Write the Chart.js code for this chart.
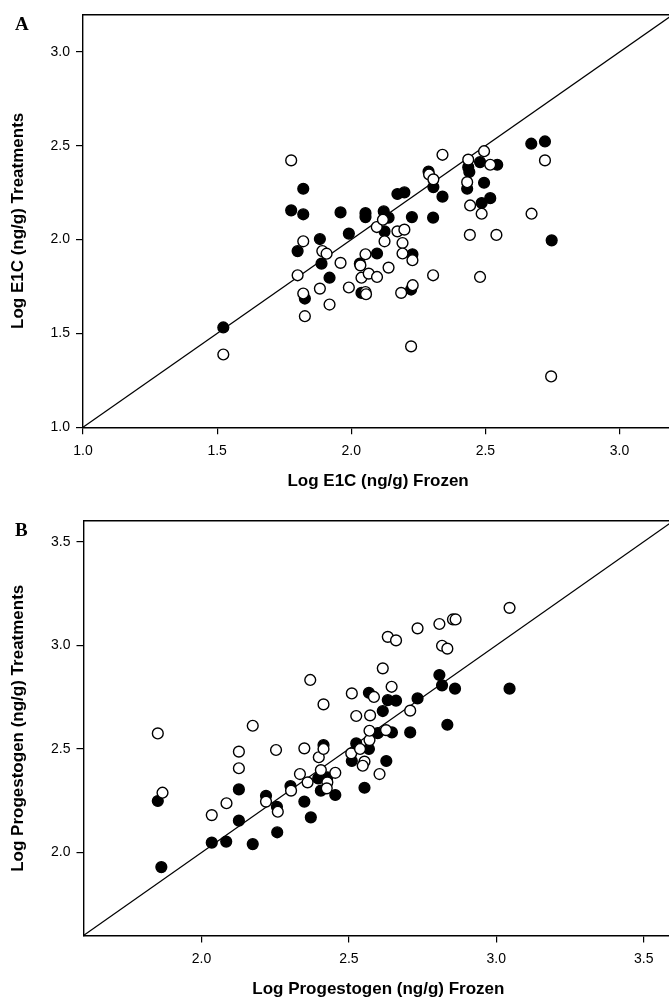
<!DOCTYPE html>
<html>
<head>
<meta charset="utf-8">
<script src="https://cdn.jsdelivr.net/npm/chart.js@4.4.1/dist/chart.umd.min.js"></script>
<style>
    html, body { margin: 0; padding: 0; background: #fff; }
    body { width: 669px; height: 1006px; overflow: hidden; position: relative; }
    .panel { position: absolute; left: 0; }
    .panel canvas { display: block; }
    .tag {
        position: absolute; z-index: 2;
        font: bold 19px "Liberation Serif", "Times New Roman", serif;
    }
</style>
</head>
<body>

<div class="panel" style="top:0px"><canvas id="chartA" width="680" height="500"></canvas></div>
<div class="panel" style="top:500px"><canvas id="chartB" width="680" height="506"></canvas></div>
<div class="tag" style="left:15px; top:13px">A</div>
<div class="tag" style="left:15px; top:519px">B</div>

<script>
// ==========================
// Data : panel A (E1C)
// ==========================

const aTicks = [1.0, 1.5, 2.0, 2.5, 3.0];
const aLine = [1.0, 3.2];

const aFilledX = [1.523, 1.821, 1.776, 1.821, 1.960, 2.053, 2.053, 1.883, 1.991, 1.800,
                  1.889, 2.096, 2.032, 1.919, 1.827, 2.038, 2.671, 2.722, 2.480, 2.544,
                  2.436, 2.440, 2.288, 2.306, 2.432, 2.495, 2.340, 2.518, 2.486, 2.747,
                  2.172, 2.198, 2.121, 2.139, 2.226, 2.305, 2.124, 2.228, 2.223];
const aFilledY = [1.532, 2.271, 2.156, 2.135, 2.145, 2.141, 2.120, 2.003, 2.032, 1.939,
                  1.872, 1.926, 1.872, 1.797, 1.686, 1.716, 2.511, 2.523, 2.413, 2.399,
                  2.386, 2.360, 2.363, 2.280, 2.271, 2.303, 2.229, 2.221, 2.195, 1.996,
                  2.243, 2.252, 2.151, 2.117, 2.120, 2.117, 2.044, 1.922, 1.734];

const aOpenX = [1.523, 1.776, 1.821, 1.892, 1.908, 1.960, 2.053, 2.034, 1.800, 2.038,
                2.065, 2.096, 2.095, 2.722, 2.340, 2.495, 2.436, 2.518, 2.290, 2.306,
                2.432, 2.443, 2.486, 2.672, 2.442, 2.541, 2.118, 2.172, 2.198, 2.124,
                2.191, 2.191, 2.228, 2.139, 2.305, 2.480, 1.883, 1.821, 1.991, 1.919,
                1.827, 2.053, 2.055, 2.186, 2.229, 2.223, 2.745];
const aOpenY = [1.388, 2.422, 1.991, 1.939, 1.925, 1.876, 1.922, 1.863, 1.810, 1.797,
                1.819, 1.801, 2.067, 2.422, 2.452, 2.471, 2.426, 2.399, 2.347, 2.321,
                2.306, 2.182, 2.138, 2.138, 2.025, 2.025, 2.106, 2.044, 2.053, 1.991,
                1.982, 1.926, 1.890, 1.851, 1.810, 1.801, 1.739, 1.713, 1.745, 1.654,
                1.592, 1.721, 1.709, 1.716, 1.757, 1.431, 1.271];

// ==========================
// Data : panel B (Progestogen)
// ==========================

const bTicks = [2.0, 2.5, 3.0, 3.5];
const bLine = [1.6, 3.6];

const bFilledX = [1.852, 1.864, 2.127, 2.127, 2.035, 2.084, 2.174, 2.257, 2.371, 2.349,
                  2.219, 2.256, 2.302, 2.414, 2.396, 2.427, 2.405, 2.454, 2.525, 2.510,
                  2.568, 2.598, 2.646, 2.553, 2.627, 2.708, 2.615, 2.632, 2.660, 2.733,
                  2.834, 2.807, 2.816, 2.860, 3.045, 2.568];
const bFilledY = [2.249, 1.930, 2.305, 2.154, 2.048, 2.053, 2.041, 2.098, 2.170, 2.246,
                  2.274, 2.221, 2.321, 2.519, 2.358, 2.363, 2.299, 2.278, 2.527, 2.442,
                  2.500, 2.576, 2.580, 2.313, 2.442, 2.580, 2.683, 2.736, 2.733, 2.744,
                  2.617, 2.857, 2.807, 2.791, 2.791, 2.771];

const bOpenX = [1.852, 1.868, 2.174, 2.127, 2.127, 2.085, 2.035, 2.253, 2.349, 2.219,
                2.259, 2.304, 2.334, 2.360, 2.398, 2.414, 2.405, 2.427, 2.425, 2.454,
                2.508, 2.538, 2.553, 2.547, 2.570, 2.570, 2.626, 2.604, 2.708, 2.525,
                2.572, 2.585, 2.510, 2.645, 2.615, 2.369, 2.414, 2.632, 2.660, 2.733,
                2.807, 2.853, 2.862, 2.816, 2.834, 3.045];
const bOpenY = [2.575, 2.289, 2.612, 2.487, 2.407, 2.238, 2.181, 2.495, 2.503, 2.246,
                2.197, 2.299, 2.379, 2.339, 2.460, 2.500, 2.398, 2.339, 2.310, 2.385,
                2.479, 2.500, 2.439, 2.419, 2.543, 2.588, 2.591, 2.379, 2.685, 2.659,
                2.662, 2.751, 2.768, 2.800, 2.889, 2.833, 2.715, 3.041, 3.024, 3.082,
                3.103, 3.125, 3.125, 2.998, 2.984, 3.181];


// ==========================
// Chart builder
// ==========================

const tickFont = { family: "'Liberation Sans', Arial, sans-serif", size: 14 };
const titleFont = { family: "'Liberation Sans', Arial, sans-serif", size: 17, weight: "bold" };

function toPoints(xs, ys) {
    return xs.map((x, i) => ({ x: x, y: ys[i] }));
}

function makeScatter(id, cfg) {

    const fixTicks = (values) => (scale) => {
        scale.ticks = values.map(v => ({ value: v }));
    };

    return new Chart(document.getElementById(id), {

        type: "scatter",

        data: {
            datasets: [
                {
                    // open circles on top
                    data: toPoints(cfg.openX, cfg.openY),
                    backgroundColor: "#ffffff",
                    borderColor: "#000000",
                    borderWidth: 1.4,
                    pointRadius: 5.4,
                    order: 0
                },
                {
                    data: toPoints(cfg.filledX, cfg.filledY),
                    backgroundColor: "#000000",
                    borderColor: "#000000",
                    borderWidth: 1.4,
                    pointRadius: 5.4,
                    order: 1
                },
                {
                    // line of equality
                    type: "line",
                    data: toPoints(cfg.line, cfg.line),
                    borderColor: "#000000",
                    borderWidth: 1.2,
                    pointRadius: 0,
                    fill: false,
                    order: 2
                }
            ]
        },

        options: {
            responsive: false,
            animation: false,
            events: [],
            layout: { padding: { top: cfg.padTop, right: cfg.padRight, left: 0, bottom: 0 } },
            plugins: { legend: { display: false }, tooltip: { enabled: false } },
            scales: {
                x: {
                    type: "linear",
                    position: "bottom",
                    min: cfg.line[0],
                    max: cfg.line[1],
                    afterBuildTicks: fixTicks(cfg.ticksX),
                    afterFit: (s) => { s.height = cfg.xHeight; },
                    ticks: {
                        font: tickFont, color: "#000", padding: 8,
                        maxRotation: 0, autoSkip: false,
                        callback: (v) => v.toFixed(1)
                    },
                    grid: { display: true, drawOnChartArea: false, tickLength: 7, color: "#000", lineWidth: 1.2 },
                    border: { display: true, color: "#000", width: 1.4 },
                    title: {
                        display: true, text: cfg.xTitle, font: titleFont, color: "#000",
                        padding: { top: 0, bottom: cfg.xTitlePad }
                    }
                },
                xTop: {
                    type: "linear",
                    position: "top",
                    min: cfg.line[0],
                    max: cfg.line[1],
                    afterFit: (s) => { s.height = 0; },
                    ticks: { display: false },
                    grid: { display: false },
                    border: { display: true, color: "#000", width: 1.4 }
                },
                y: {
                    type: "linear",
                    position: "left",
                    min: cfg.line[0],
                    max: cfg.line[1],
                    afterBuildTicks: fixTicks(cfg.ticksY),
                    afterFit: (s) => { s.width = cfg.yWidth; },
                    ticks: {
                        font: tickFont, color: "#000", padding: 6,
                        autoSkip: false,
                        callback: (v) => v.toFixed(1)
                    },
                    grid: { display: true, drawOnChartArea: false, tickLength: 7, color: "#000", lineWidth: 1.2 },
                    border: { display: true, color: "#000", width: 1.4 },
                    title: {
                        display: true, text: cfg.yTitle, font: titleFont, color: "#000",
                        padding: { top: 8, bottom: 0 }
                    }
                }
            }
        }
    });
}


// ==========================
// Panel A
// ==========================

makeScatter("chartA", {
    openX: aOpenX, openY: aOpenY,
    filledX: aFilledX, filledY: aFilledY,
    line: aLine,
    ticksX: aTicks, ticksY: aTicks,
    xTitle: "Log E1C (ng/g) Frozen",
    yTitle: "Log E1C (ng/g) Treatments",
    padTop: 13, padRight: 4,
    yWidth: 83, xHeight: 72.7,
    xTitlePad: 8
});


// ==========================
// Panel B
// ==========================

makeScatter("chartB", {
    openX: bOpenX, openY: bOpenY,
    filledX: bFilledX, filledY: bFilledY,
    line: bLine,
    ticksX: bTicks, ticksY: bTicks,
    xTitle: "Log Progestogen (ng/g) Frozen",
    yTitle: "Log Progestogen (ng/g) Treatments",
    padTop: 21, padRight: 2.5,
    yWidth: 83.5, xHeight: 70.5,
    xTitlePad: 6
});
</script>
</body>
</html>
